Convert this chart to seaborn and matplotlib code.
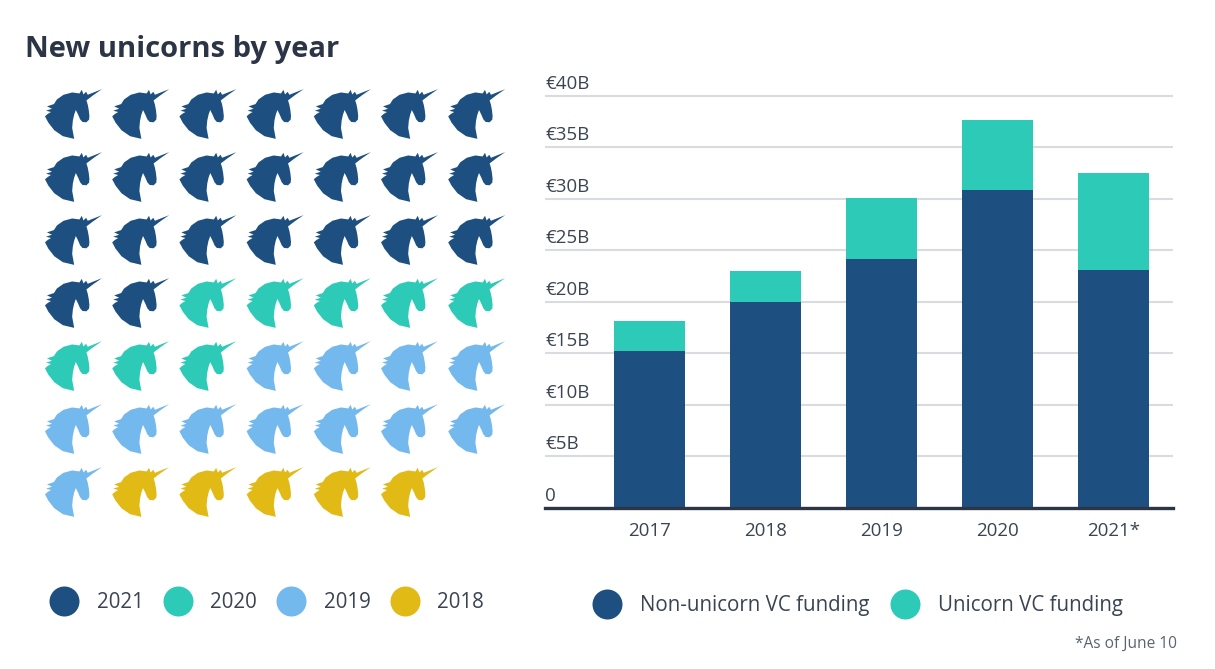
import numpy as np
import pandas as pd
import matplotlib
matplotlib.use('Agg')
import matplotlib.pyplot as plt
import matplotlib.transforms as mtrans
import seaborn as sns
from matplotlib.lines import Line2D
from matplotlib.path import Path

# data
years = ['2017', '2018', '2019', '2020', '2021*']
non_unicorn = [15.2, 20.0, 24.2, 30.9, 23.1]
unicorn = [3.0, 3.0, 5.9, 6.8, 9.4]
y_ticks = [0, 5, 10, 15, 20, 25, 30, 35, 40]
y_labels = ['0', '€5B', '€10B', '€15B', '€20B', '€25B', '€30B', '€35B', '€40B']

new_years = ['2021', '2020', '2019', '2018']
new_counts = [23, 8, 12, 5]

NAVY = '#1d5080'
TEAL = '#2dcbb7'
SKY = '#74b9ed'
GOLD = '#e2ba16'
TEXT = '#3a4452'
DARK = '#2b3546'
W, H = 1215, 669

sns.set_style('white')
plt.rcParams['font.family'] = ['Open Sans', 'DejaVu Sans']


def px_axes(fig, left, top, right, bottom):
    return fig.add_axes([left / W, 1 - bottom / H, (right - left) / W, (bottom - top) / H])


# unicorn head outline
head = np.array([
    (178, 9), (152, 27), (131, 43), (135, 56), (138, 72), (140, 90), (139, 101), (131, 109),
    (119, 108), (112, 100), (106, 86), (99, 72), (94, 86), (90, 104), (88, 126), (94, 159),
    (60, 151), (34, 133), (16, 110), (6, 91), (14, 84), (24, 78), (9, 74), (27, 68),
    (12, 61), (33, 54), (42, 40), (62, 26), (88, 19), (110, 22), (117, 11), (122, 25),
    (130, 17), (135, 26),
], dtype=float)
head_w = head[:, 0].max() - head[:, 0].min()
verts = np.column_stack([(head[:, 0] - 92) / head_w, -(head[:, 1] - 84) / head_w])
verts = np.vstack([verts, verts[0]])
codes = [Path.MOVETO] + [Path.LINETO] * (len(verts) - 2) + [Path.CLOSEPOLY]
unicorn_marker = Path(verts, codes)

fig = plt.figure(figsize=(W / 100, H / 100), dpi=100, facecolor='white')

fig.text(25 / W, 1 - 49 / H, 'New unicorns by year', fontsize=21, fontweight='bold', color=DARK, va='center')

# left: one head per new unicorn, filled row by row
labels = np.repeat(new_years, new_counts)
heads = pd.DataFrame({'year': labels})
heads['col'] = np.arange(len(heads)) % 7
heads['row'] = np.arange(len(heads)) // 7

ax_l = px_axes(fig, 40, 85, 510, 525)
sns.scatterplot(data=heads, x='col', y='row', hue='year', ax=ax_l, legend=False,
                palette=dict(zip(new_years, [NAVY, TEAL, SKY, GOLD])),
                marker=unicorn_marker, s=(57 * 0.72) ** 2, linewidth=0, edgecolor='none')
ax_l.set_xlim((40 - 73.5) / 67.2, (510 - 73.5) / 67.2)
ax_l.set_ylim((525 - 114) / 63, (85 - 114) / 63)
ax_l.axis('off')

# right: stacked bars
ax_r = px_axes(fig, 545, 90, 1173, 508)
totals = [a + b for a, b in zip(non_unicorn, unicorn)]
sns.barplot(x=years, y=totals, color=TEAL, width=0.612, saturation=1, ax=ax_r, zorder=3, linewidth=0)
sns.barplot(x=years, y=non_unicorn, color=NAVY, width=0.612, saturation=1, ax=ax_r, zorder=3, linewidth=0)
ax_r.set_xlim(-0.90, 4.513)
ax_r.set_ylim(0, 40.58)
ax_r.set_yticks(y_ticks)
ax_r.set_yticklabels(y_labels)
ax_r.set_ylabel('')
ax_r.grid(axis='y', color='#d9dcdf', linewidth=1.5, zorder=0)
ax_r.set_axisbelow(True)
for s in ['top', 'left', 'right']:
    ax_r.spines[s].set_visible(False)
ax_r.spines['bottom'].set_color(DARK)
ax_r.spines['bottom'].set_linewidth(2.4)
ax_r.spines['bottom'].set_zorder(5)
ax_r.tick_params(axis='x', length=0, pad=10, labelsize=13.5, labelcolor=TEXT)
ax_r.tick_params(axis='y', length=0, pad=0, labelsize=13.5, labelcolor=TEXT)
# value labels sit just above their gridlines, inside the plot
lift = mtrans.ScaledTranslation(0, 3 / 100, fig.dpi_scale_trans)
for lab in ax_r.get_yticklabels():
    lab.set_ha('left')
    lab.set_va('bottom')
    lab.set_transform(lab.get_transform() + lift)


def dot(c, ms):
    return Line2D([], [], linestyle='none', marker='o', markersize=ms, color=c, markeredgewidth=0)


fig.legend([dot(c, 21.6) for c in [NAVY, TEAL, SKY, GOLD]], new_years, ncol=4, frameon=False,
           loc='center left', bbox_to_anchor=(54 / W, 1 - 602.5 / H), borderpad=0, borderaxespad=0,
           fontsize=14.8, handlelength=1, handletextpad=1.08, columnspacing=1.16, labelcolor=TEXT)
fig.legend([dot(NAVY, 21.6), dot(TEAL, 21.6)], ['Non-unicorn VC funding', 'Unicorn VC funding'], ncol=2,
           frameon=False, loc='center left', bbox_to_anchor=(597 / W, 1 - 606 / H), borderpad=0,
           borderaxespad=0, fontsize=14.8, handlelength=1, handletextpad=1.1, columnspacing=1.2,
           labelcolor=TEXT)

fig.text(1177 / W, 1 - 644 / H, '*As of June 10', fontsize=11.2, color='#5a6470', ha='right', va='center')

fig.savefig('out.png', dpi=100)
